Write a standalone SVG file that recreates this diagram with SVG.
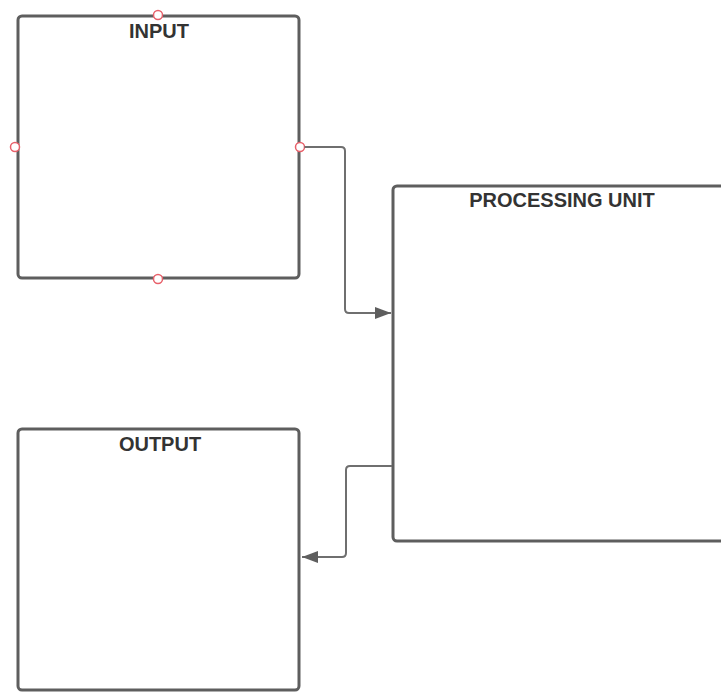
<svg xmlns="http://www.w3.org/2000/svg" width="721" height="692" viewBox="0 0 721 692">
  <defs>
    <style>
      .box { fill: #ffffff; stroke: #5e5e5e; stroke-width: 3; }
      .label { font-family: "Liberation Sans", Arial, sans-serif; font-weight: bold; font-size: 20px; fill: #333333; text-anchor: middle; }
      .wire { fill: none; stroke: #6f6f6f; stroke-width: 2; }
      .port { fill: #ffffff; stroke: #e8606a; stroke-width: 1.5; }
    </style>
    <marker id="arrow" viewBox="0 0 16 12" refX="16" refY="6" markerWidth="16" markerHeight="12" markerUnits="userSpaceOnUse" orient="auto">
      <path d="M0,0 L16,6 L0,12 Z" fill="#5e5e5e"/>
    </marker>
  </defs>
  <rect width="721" height="692" fill="#ffffff"/>

  <g id="input">
    <rect class="box" x="18" y="16" width="281" height="262" rx="4"/>
    <text class="label" x="159" y="38">INPUT</text>
    <circle class="port" cx="158" cy="15" r="4.5"/>
    <circle class="port" cx="15" cy="147" r="4.5"/>
    <circle class="port" cx="300" cy="147" r="4.5"/>
    <circle class="port" cx="158" cy="279" r="4.5"/>
  </g>

  <g id="processing-unit">
    <rect class="box" x="393" y="186" width="340" height="355" rx="4"/>
    <text class="label" x="562" y="206.5">PROCESSING UNIT</text>
  </g>

  <g id="output">
    <rect class="box" x="18" y="429" width="281" height="261" rx="4"/>
    <text class="label" x="160" y="450.5">OUTPUT</text>
  </g>

  <g id="connectors">
    <path class="wire" d="M304.5,147 H341 Q345,147 345,151 V309 Q345,313 349,313 H391" marker-end="url(#arrow)"/>
    <path class="wire" d="M392,466 H350 Q346,466 346,470 V553 Q346,557 342,557 H302" marker-end="url(#arrow)"/>
  </g>
</svg>
